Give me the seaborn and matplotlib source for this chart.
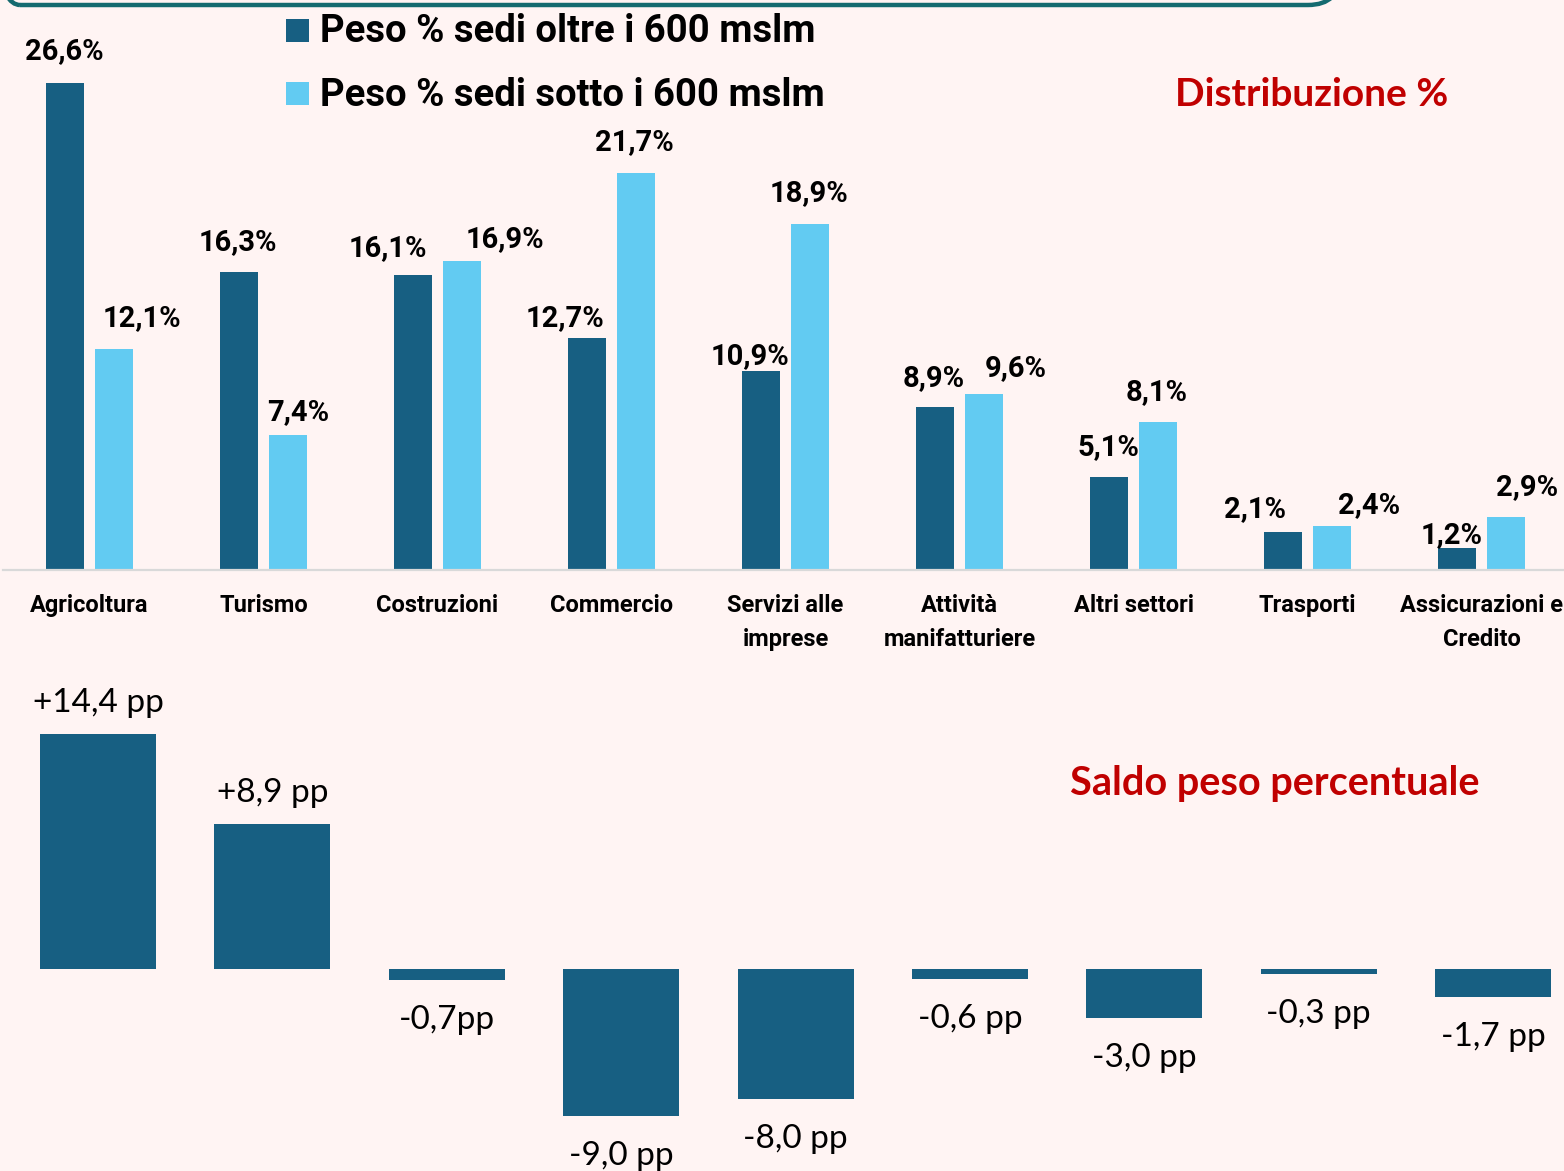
import matplotlib
matplotlib.use("Agg")
import matplotlib.pyplot as plt
import matplotlib.transforms as mtransforms
from matplotlib.patches import FancyBboxPatch, Rectangle
import seaborn as sns
import pandas as pd

# data
categories = ['Agricoltura', 'Turismo', 'Costruzioni', 'Commercio', 'Servizi alle\nimprese',
              'Attività\nmanifatturiere', 'Altri settori', 'Trasporti', 'Assicurazioni e\nCredito']
oltre_600 = [26.6, 16.3, 16.1, 12.7, 10.9, 8.9, 5.1, 2.1, 1.2]
sotto_600 = [12.1, 7.4, 16.9, 21.7, 18.9, 9.6, 8.1, 2.4, 2.9]
saldo = [14.4, 8.9, -0.7, -9.0, -8.0, -0.6, -3.0, -0.3, -1.7]
saldo_labels = ['+14,4 pp', '+8,9 pp', '-0,7pp', '-9,0 pp', '-8,0 pp',
                '-0,6 pp', '-3,0 pp', '-0,3 pp', '-1,7 pp']
series_names = ['Peso % sedi oltre i 600 mslm', 'Peso % sedi sotto i 600 mslm']

# style
BG = '#FFF4F3'
DARK = '#175F82'
LIGHT = '#62CBF2'
RED = '#C00000'
# nudges (pixels) of the value labels, as placed in the original layout
dx_oltre = [-1, -1, -25, -22, -11, -1, -1, -28, -6]
dx_sotto = [28, 10, 43, -1, -1, 32, -1, 37, 21]
dy_oltre = [32, 30, 27, 19, 14, 29, 30, 22, 13]
dy_sotto = [30, 22, 22, 31, 31, 26, 30, 21, 30]

sns.set_theme(style='white')
plt.rcParams['font.family'] = ['Roboto', 'DejaVu Sans']
plt.rcParams['text.color'] = 'black'

W, H = 1564, 1171
fig = plt.figure(figsize=(W / 100, H / 100), dpi=100, facecolor=BG)
PX = mtransforms.IdentityTransform()


def px_axes(left, top, right, bottom):
    return fig.add_axes([left / W, 1 - bottom / H, (right - left) / W, (bottom - top) / H])


# ---- upper panel: distribution ----
ax1 = px_axes(3, 20, W, 570)
ax1.set_facecolor(BG)
df = pd.DataFrame({
    'settore': categories * 2,
    'serie': [series_names[0]] * len(categories) + [series_names[1]] * len(categories),
    'valore': oltre_600 + sotto_600,
})
sns.barplot(data=df, x='settore', y='valore', hue='serie', order=categories,
            hue_order=series_names, palette=[DARK, LIGHT], width=0.56, gap=0.22,
            saturation=1, linewidth=0, legend=False, ax=ax1)
px_per_unit = 18.3
ax1.set_ylim(0, 550 / px_per_unit)
ax1.set_xlim((3 - 89.5) / 174, (W - 89.5) / 174)
ax1.set_xlabel('')
ax1.set_ylabel('')
ax1.set_yticks([])
for s in ['top', 'right', 'left']:
    ax1.spines[s].set_visible(False)
ax1.spines['bottom'].set_color('#D9D9D9')
ax1.spines['bottom'].set_linewidth(1.6)
ax1.tick_params(axis='x', length=0, pad=17.5)
for lbl in ax1.get_xticklabels():
    lbl.set_fontsize(17)
    lbl.set_fontweight('bold')
    lbl.set_linespacing(1.58)
    lbl.set_color('black')

n = len(categories)
bars = ax1.patches
for i, b in enumerate(bars[:2 * n]):
    val = b.get_height()
    if i < n:
        dx, dy = dx_oltre[i], dy_oltre[i]
    else:
        dx, dy = dx_sotto[i - n], dy_sotto[i - n]
    ax1.annotate(f'{val:.1f}%'.replace('.', ','), (b.get_x() + b.get_width() / 2, val),
                 xytext=(dx, dy), textcoords='offset pixels', ha='center', va='center',
                 fontsize=21, fontweight='bold', color='black')

# legend drawn by hand (squares + labels)
for k, (name, col) in enumerate(zip(series_names, [DARK, LIGHT])):
    yc = H - (30 + 63 * k)
    fig.patches.append(Rectangle((286, yc - 11.5), 23, 23, transform=PX,
                                 facecolor=col, edgecolor='none'))
    fig.text(320 / W, (yc + 2) / H, name, ha='left', va='center_baseline',
             fontsize=27.5, fontweight='bold', color='black')

fig.text(1312 / W, 1 - 94 / H, 'Distribuzione %', ha='center', va='center',
         color=RED, fontsize=28, fontweight='bold', family='Lato')

# ---- lower panel: difference ----
ax2 = px_axes(0, 690, W, H)
ax2.set_facecolor(BG)
sns.barplot(x=list(range(n)), y=saldo, color=DARK, width=0.665, linewidth=0,
            saturation=1, native_scale=True, ax=ax2)
px2 = 16.3
ax2.set_ylim(-(H - 969) / px2, (969 - 690) / px2)
ax2.set_xlim(-98 / 174.4, (W - 98) / 174.4)
ax2.axis('off')
for b, txt in zip(ax2.patches, saldo_labels):
    h = b.get_height()
    top = max(b.get_y(), b.get_y() + h)
    bot = min(b.get_y(), b.get_y() + h)
    xc = b.get_x() + b.get_width() / 2
    if top > 0:
        ax2.annotate(txt, (xc, top), xytext=(0, 31), textcoords='offset pixels',
                     ha='center', va='center', fontsize=24, family='Lato', color='black')
    else:
        ax2.annotate(txt, (xc, bot), xytext=(0, -40), textcoords='offset pixels',
                     ha='center', va='center', fontsize=24, family='Lato', color='black')

fig.text(1275 / W, 1 - 784 / H, 'Saldo peso percentuale', ha='center', va='center',
         color=RED, fontsize=28.5, fontweight='bold', family='Lato')

# rounded frame of the box above, only its lower edge is visible
frame = FancyBboxPatch((-12, H - 5), 1352, 200, boxstyle='round,pad=0,rounding_size=32',
                       transform=PX, facecolor='none',
                       edgecolor='#156B70', linewidth=3.2, zorder=10)
fig.patches.append(frame)

fig.savefig('out.png', dpi=100, facecolor=BG)
